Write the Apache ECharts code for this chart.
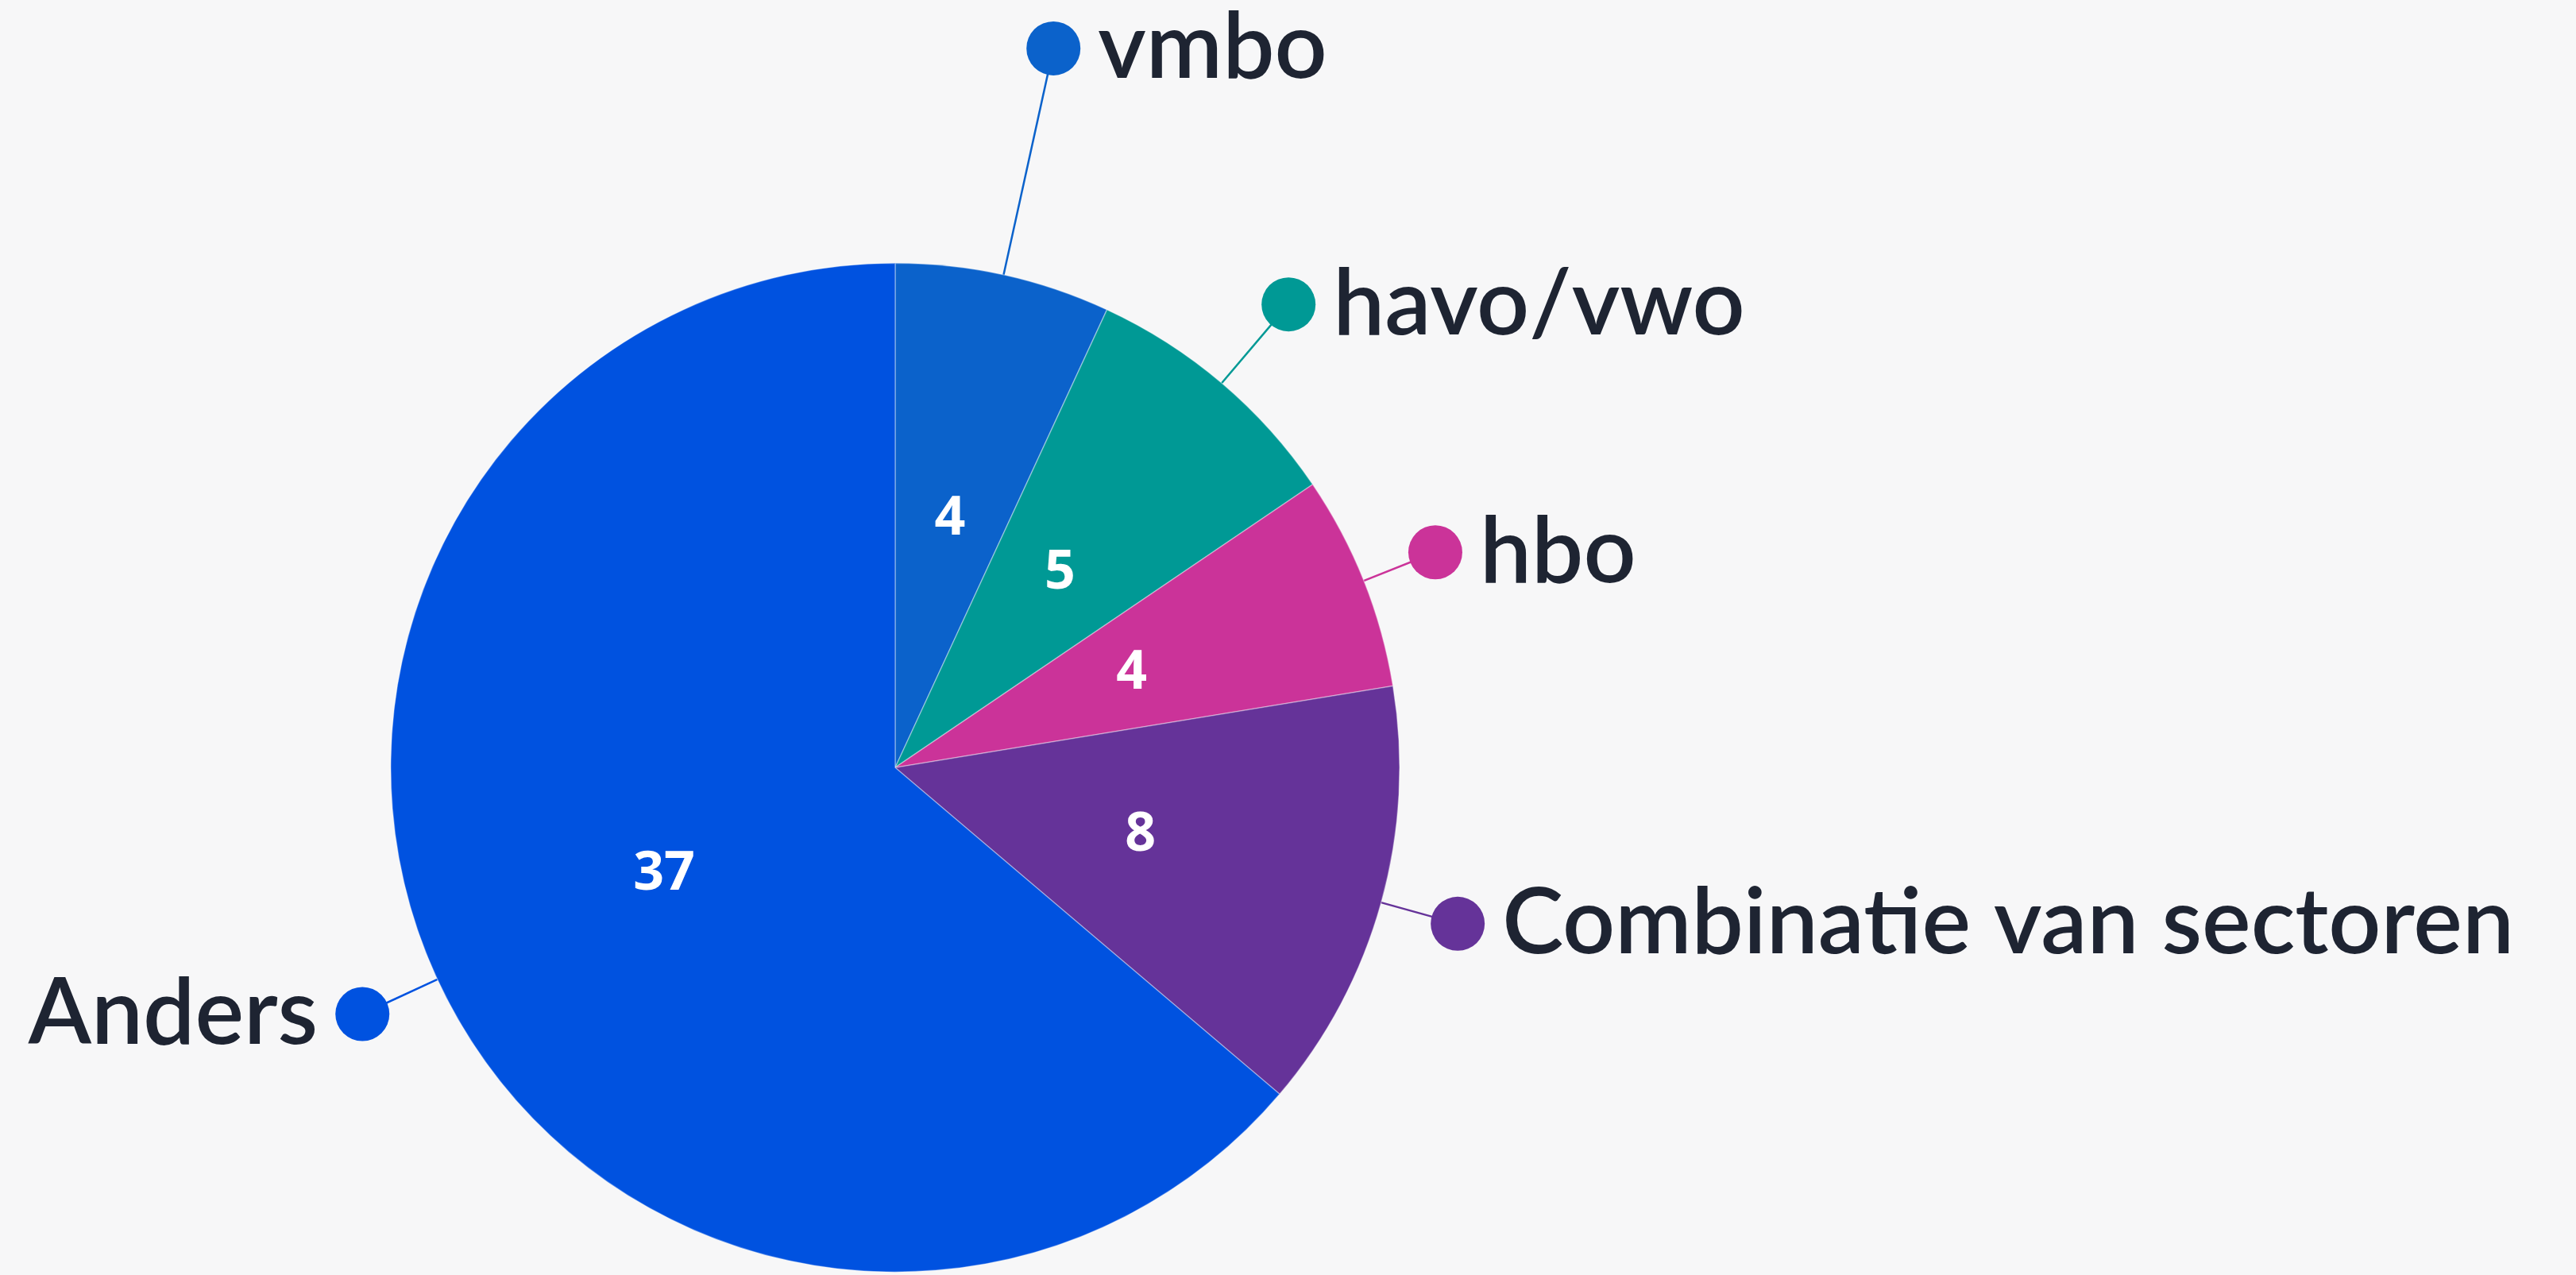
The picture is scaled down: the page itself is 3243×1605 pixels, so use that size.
<!DOCTYPE html>
<html>
<head>
<meta charset="utf-8">
<script src="https://cdn.jsdelivr.net/npm/echarts@6/dist/echarts.min.js"></script>
<style>
  html, body { margin: 0; padding: 0; background: #f7f7f8; }
  #chart { width: 3243px; height: 1605px; }
</style>
</head>
<body>
<div id="chart"></div>
<script>
const categories = ['vmbo', 'havo/vwo', 'hbo', 'Combinatie van sectoren', 'Anders'];
const values = [4, 5, 4, 8, 37];
const colors = ['#0b62cb', '#009995', '#cb3399', '#653399', '#0052e0'];
// leader line length per slice (px)
const leaderLengths = [292, 130, 97, 100, 104];

const total = values.reduce((a, b) => a + b, 0);
// which labels sit on the left side of the pie
let acc = 0;
const leftSide = values.map(v => { const mid = (acc + v / 2) / total; acc += v; return mid > 0.5; });

const rich = {
  gap: { width: 22, height: 10 },
  name: { fontSize: 116, color: '#1e2432', fontFamily: 'Lato', fontWeight: 600, lineHeight: 124 }
};
colors.forEach((c, i) => {
  rich['dot' + i] = { width: 68, height: 68, borderRadius: 34, backgroundColor: c };
});

const chart = echarts.init(document.getElementById('chart'));
const center = ['34.75%', '60.2%'];
const radius = 635;

chart.setOption({
  backgroundColor: '#f7f7f8',
  animation: false,
  series: [
    {
      type: 'pie',
      center: center,
      radius: radius,
      startAngle: 90,
      clockwise: true,
      avoidLabelOverlap: false,
      itemStyle: { borderColor: 'rgba(255,255,255,0.35)', borderWidth: 1.5 },
      label: {
        show: true,
        position: 'outside',
        distanceToLabelLine: -34,
        formatter: p => leftSide[p.dataIndex]
          ? `{name|${p.name}}{gap|}{dot${p.dataIndex}|}`
          : `{dot${p.dataIndex}|}{gap|}{name|${p.name}}`,
        rich: rich
      },
      labelLine: { show: true, length2: 0, smooth: false, lineStyle: { width: 2.5 } },
      data: categories.map((name, i) => ({
        name: name,
        value: values[i],
        itemStyle: { color: colors[i] },
        labelLine: { length: leaderLengths[i], length2: 0 }
      }))
    },
    {
      type: 'pie',
      center: center,
      radius: radius,
      startAngle: 90,
      clockwise: true,
      silent: true,
      itemStyle: { color: 'transparent' },
      label: {
        show: true,
        position: 'inside',
        formatter: '{c}',
        color: '#ffffff',
        fontSize: 68,
        fontWeight: 'bold',
        fontFamily: 'Open Sans'
      },
      labelLine: { show: false },
      data: categories.map((name, i) => ({ name: name, value: values[i] }))
    }
  ]
});
</script>
</body>
</html>
